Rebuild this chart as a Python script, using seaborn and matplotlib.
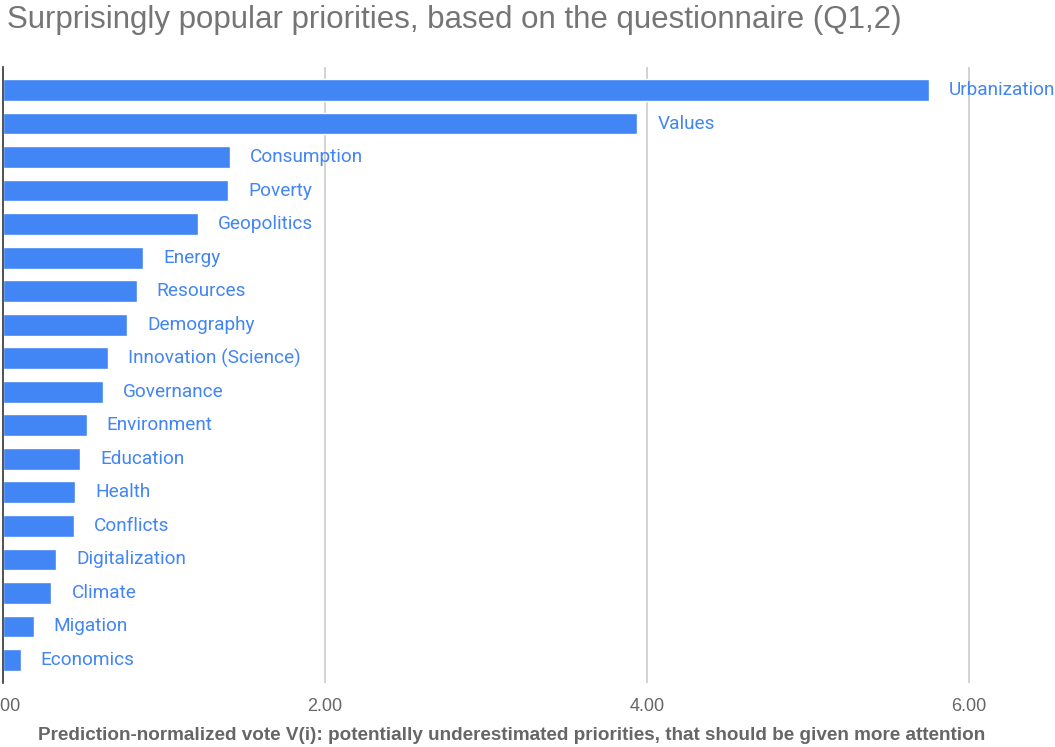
import matplotlib
matplotlib.use("Agg")
import matplotlib.pyplot as plt
import seaborn as sns
import pandas as pd

categories = ["Urbanization", "Values", "Consumption", "Poverty", "Geopolitics", "Energy",
              "Resources", "Demography", "Innovation (Science)", "Governance", "Environment",
              "Education", "Health", "Conflicts", "Digitalization", "Climate", "Migation", "Economics"]
values = [5.75, 3.94, 1.41, 1.40, 1.21, 0.87, 0.83, 0.77, 0.65, 0.62, 0.52, 0.48, 0.45, 0.44,
          0.33, 0.30, 0.19, 0.11]
x_ticks = [0, 2, 4, 6]
x_tick_labels = ["0.00", "2.00", "4.00", "6.00"]

df = pd.DataFrame({"category": categories, "value": values})

sns.set_theme(style="white")
plt.rcParams["font.family"] = ["Roboto", "DejaVu Sans"]

fig = plt.figure(figsize=(10.55, 7.47), dpi=100)
ax = fig.add_axes([3 / 1055, (747 - 683) / 747, 1052 / 1055, 616 / 747])

blue = "#4285F4"
sns.barplot(data=df, y="category", x="value", orient="h", color=blue, saturation=1,
            width=0.65, ax=ax, zorder=3)

ax.bar_label(ax.containers[0], labels=categories, padding=14.5, color=blue, fontsize=13.7,
             family="Roboto")

ax.set_xlim(0, 1052 / 161)
ax.set_ylim(17.686, -0.686)
ax.set_xticks(x_ticks)
ax.set_xticklabels(x_tick_labels, fontsize=13, color="#666666", family="Liberation Sans")
ax.tick_params(axis="x", length=0, pad=11)
ax.set_yticks([])
ax.set_ylabel("")
ax.set_xlabel("Prediction-normalized vote V(i): potentially underestimated priorities, that should be given more attention",
              fontsize=13.6, fontweight="bold", color="#666666", family="Liberation Sans")
ax.xaxis.label.set_va("center")
ax.xaxis.set_label_coords((511.5 - 3) / 1052, -52 / 616)

for x in x_ticks[1:]:
    ax.axvline(x, color="#cccccc", lw=1.2, zorder=1)

for s in ["top", "right", "bottom"]:
    ax.spines[s].set_visible(False)
ax.spines["left"].set_color("#333333")
ax.spines["left"].set_linewidth(1.2)
ax.spines["left"].set_zorder(4)

fig.text(7 / 1055, 1 - 20 / 747, "Surprisingly popular priorities, based on the questionnaire (Q1,2)",
         fontsize=22.5, color="#757575", family="Liberation Sans", va="center", ha="left")

fig.savefig("out.png", dpi=100)
